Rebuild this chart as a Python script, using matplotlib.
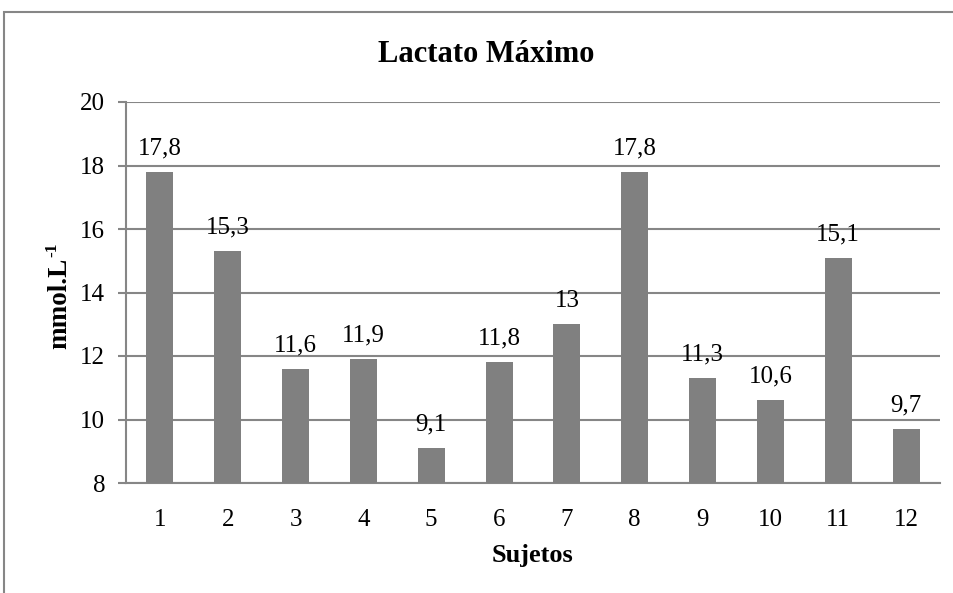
import matplotlib
matplotlib.use("Agg")
import matplotlib.pyplot as plt
from matplotlib.patches import Rectangle

plt.rcParams['font.family'] = ['Liberation Serif', 'DejaVu Serif']

sujetos = ['1', '2', '3', '4', '5', '6', '7', '8', '9', '10', '11', '12']
lactato = [17.8, 15.3, 11.6, 11.9, 9.1, 11.8, 13, 17.8, 11.3, 10.6, 15.1, 9.7]
etiquetas = ['17,8', '15,3', '11,6', '11,9', '9,1', '11,8', '13', '17,8', '11,3', '10,6', '15,1', '9,7']
yticks = [8, 10, 12, 14, 16, 18, 20]

W, H = 954, 593
fig = plt.figure(figsize=(W/100, H/100), dpi=100)
ax = fig.add_axes([126/W, 1 - 483/H, (940 - 126)/W, (483 - 102)/H])

# outer frame of the chart
fig.patches.append(Rectangle((4/W, -0.02), 1.05, 1 - 12/H + 0.02,
                             transform=fig.transFigure, fill=False,
                             edgecolor='#868686', linewidth=1.5))

x = list(range(len(sujetos)))
ax.bar(x, lactato, width=0.4, color='#808080', zorder=3)
for xi, v, lab in zip(x, lactato, etiquetas):
    ax.annotate(lab, (xi, v), xytext=(0, 9), textcoords='offset points',
                ha='center', va='bottom', fontsize=18)

ax.set_xlim(-0.5, len(sujetos) - 0.5)
ax.set_ylim(8, 20)
ax.set_yticks(yticks)
ax.set_xticks(x)
ax.set_xticklabels(sujetos)
ax.tick_params(axis='y', labelsize=18, length=6, color='#868686', width=1.5, pad=9)
ax.tick_params(axis='x', labelsize=18, length=0, pad=19)
ax.yaxis.grid(True, color='#868686', linewidth=1.5, zorder=0)
ax.set_axisbelow(True)
for s in ['top', 'right']:
    ax.spines[s].set_visible(False)
for s in ['left', 'bottom']:
    ax.spines[s].set_color('#868686')
    ax.spines[s].set_linewidth(1.5)

fig.text(486/W, 1 - 62/H, 'Lactato Máximo', fontsize=22, fontweight='bold',
         ha='center', va='baseline')
ax.set_xlabel('Sujetos', fontsize=19, fontweight='bold', labelpad=9)

# y label with superscript
ylab = fig.text(72/W, 1 - 303/H, 'mmol.L', fontsize=19.5, fontweight='bold',
                rotation=90, ha='right', va='center')
fig.canvas.draw()
bb = ylab.get_window_extent()
fig.text((bb.x0 - 3) / W, bb.y1 / H, '-1', fontsize=12.5, fontweight='bold',
         rotation=90, ha='left', va='bottom')

fig.savefig('out.png', dpi=100)
